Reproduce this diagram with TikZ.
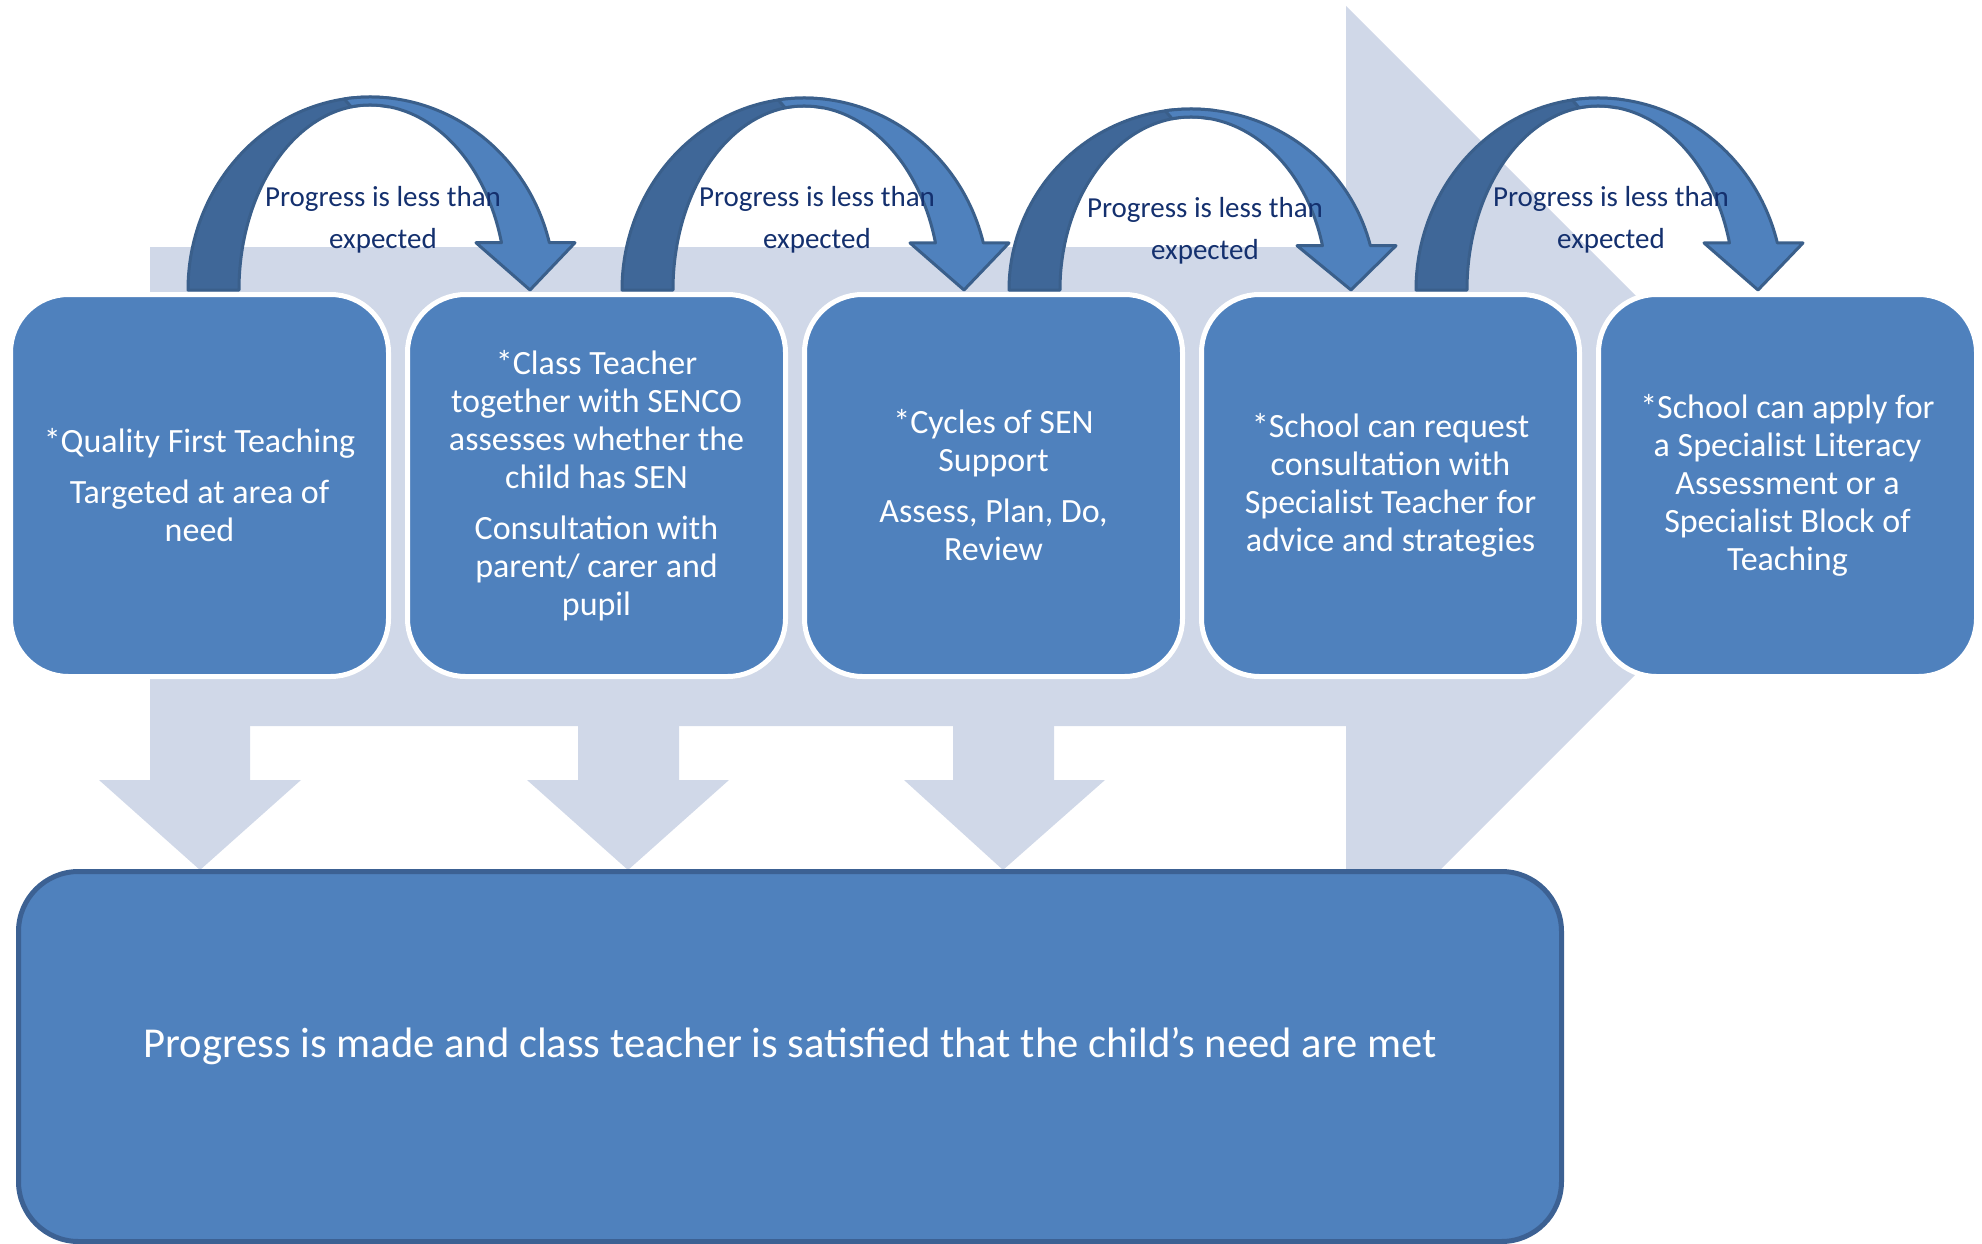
\documentclass[tikz,border=0pt]{standalone}
\usepackage{fontspec}
\setmainfont{Carlito}
\definecolor{bgarrow}{HTML}{D0D8E8}
\definecolor{boxblue}{HTML}{4F81BD}
\definecolor{arrdark}{HTML}{3F6798}
\definecolor{arrline}{HTML}{3A5F8B}
\definecolor{lblnavy}{HTML}{14306E}
\definecolor{bordblue}{HTML}{3C6193}

% curved "progress is less than expected" arrow: #1 = left x of the rising leg, #2 = top y of the arc
\newcommand\CurvArrow[2]{%
  \pgfmathsetmacro\caCx{#1+182}%
  \pgfmathsetmacro\caBo{290-#2}%
  \pgfmathsetmacro\caBi{\caBo-8}%
  \pgfmathsetmacro\caHb{290-0.245*\caBo}%
  \pgfmathsetmacro\caTho{360-asin((290-\caHb)/\caBo)}%
  \pgfmathsetmacro\caThi{360-asin((290-\caHb)/\caBi)}%
  \filldraw[curvdark] ({#1},290)
     arc[start angle=180,end angle=278,x radius=182,y radius=\caBo]
     -- ({\caCx+131*cos(278)},{290+\caBi*sin(278)})
     arc[start angle=278,end angle=180,x radius=131,y radius=\caBi] -- cycle;
  \filldraw[curvlight] ({\caCx+185*cos(262)},{290+\caBo*sin(262)})
     arc[start angle=262,end angle=\caTho,x radius=185,y radius=\caBo]
     -- ({#1+387},\caHb) -- ({#1+342},290) -- ({#1+288},\caHb)
     -- ({\caCx+136*cos(\caThi)},\caHb)
     arc[start angle=\caThi,end angle=262,x radius=136,y radius=\caBi] -- cycle;
}

\begin{document}
\begin{tikzpicture}[x=1pt,y=-1pt,
  stage/.style={draw=white, line width=5pt, fill=boxblue, rounded corners=58pt,
    minimum width=378pt, minimum height=382pt, inner sep=0pt, align=center,
    text=white, font=\fontsize{34}{38}\selectfont},
  result/.style={draw=bordblue, line width=5pt, fill=boxblue, rounded corners=60pt,
    minimum width=1543pt, minimum height=370pt, inner sep=0pt},
  lbl/.style={text=lblnavy, font=\fontsize{29}{35}\selectfont, inner sep=0pt, anchor=base},
  bgshape/.style={fill=bgarrow},
  curvdark/.style={fill=arrdark, draw=arrline, line width=3pt, line join=round},
  curvlight/.style={fill=boxblue, draw=arrline, line width=3pt, line join=round}
]
\useasboundingbox (0,0) rectangle (1982,1244);
\clip (0,0) rectangle (1982,1244);

% large background arrow
\fill[bgshape] (150,247) -- (1346,247) -- (1346,6) -- (1825,485) -- (1346,964)
  -- (1346,726) -- (150,726) -- cycle;
% three downward arrows
\fill[bgshape] (150,720) -- (150,780) -- (99,780) -- (200,870) -- (301,780) -- (250,780) -- (250,720) -- cycle;
\fill[bgshape] (578,720) -- (578,780) -- (527,780) -- (628,870) -- (729,780) -- (679,780) -- (679,720) -- cycle;
\fill[bgshape] (953,720) -- (953,780) -- (904,780) -- (1003,870) -- (1105,780) -- (1054,780) -- (1054,720) -- cycle;

% result box
\node[result] (res) at (790,1056.5) {};
\node[anchor=base, inner sep=0pt, text=white, font=\fontsize{42.6}{50}\selectfont] (restext)
  at (790,1057) {Progress is made and class teacher is satisfied that the child’s need are met};

% stage boxes
\node[stage] (s1) at (199.5,485.5) {*Quality First Teaching\\[13pt]Targeted at area of\\need};
\node[stage] (s2) at (596.5,485.5) {*Class Teacher\\together with SENCO\\assesses whether the\\child has SEN\\[13pt]Consultation with\\parent/ carer and\\pupil};
\node[stage] (s3) at (993.5,485.5) {*Cycles of SEN\\Support\\[13pt]Assess, Plan, Do,\\Review};
\node[stage] (s4) at (1390.5,485.5) {*School can request\\consultation with\\Specialist Teacher for\\advice and strategies};
\node[stage] (s5) at (1787.5,485.5) {*School can apply for\\a Specialist Literacy\\Assessment or a\\Specialist Block of\\Teaching};

% curved arrows
\CurvArrow{188}{97}
\CurvArrow{622}{98}
\CurvArrow{1009}{109}
\CurvArrow{1416}{98}

% labels
\node[lbl] (l1a) at (383,207) {Progress is less than};
\node[lbl] (l1b) at (383,248) {expected};
\node[lbl] (l2a) at (817,207) {Progress is less than};
\node[lbl] (l2b) at (817,248) {expected};
\node[lbl] (l3a) at (1205,218) {Progress is less than};
\node[lbl] (l3b) at (1205,259) {expected};
\node[lbl] (l4a) at (1611,206) {Progress is less than};
\node[lbl] (l4b) at (1611,248) {expected};
\end{tikzpicture}
\end{document}
